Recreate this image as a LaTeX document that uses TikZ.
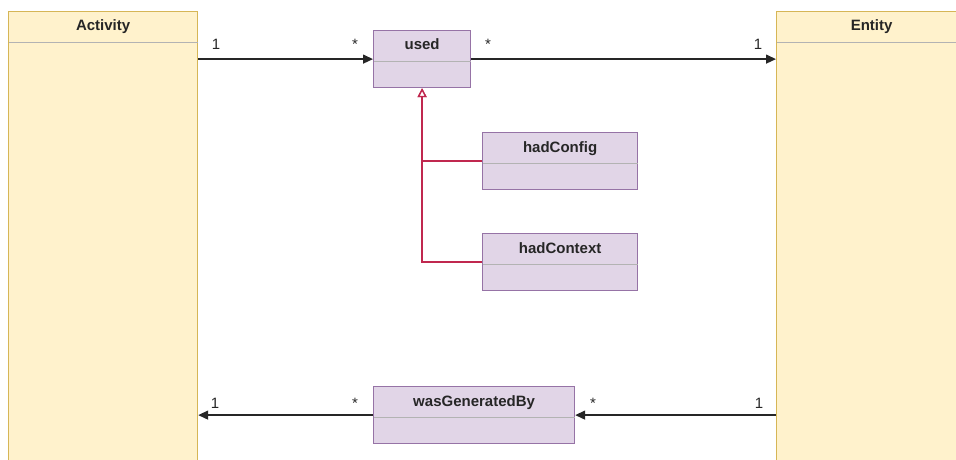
\documentclass[tikz,border=0pt]{standalone}
\usepackage{fontspec}
\setmainfont{Liberation Sans}
\usetikzlibrary{arrows.meta}
\definecolor{yellowfill}{HTML}{FFF2CC}
\definecolor{yellowline}{HTML}{D6B656}
\definecolor{purplefill}{HTML}{E1D5E7}
\definecolor{purpleline}{HTML}{9673A6}
\definecolor{divline}{HTML}{B3B3B3}
\definecolor{redline}{HTML}{C0284F}

\begin{document}
\begin{tikzpicture}[x=1pt,y=-1pt,
        classbox/.style={rectangle,anchor=north west,inner sep=0pt,line width=1.2pt},
        header/.style={font=\bfseries\fontsize{15}{18}\selectfont,anchor=base,inner sep=0pt,text=black!85},
        mult/.style={font=\fontsize{15}{18}\selectfont,anchor=base,inner sep=0pt,text=black!85},
        divider/.style={draw=divline,line width=1.5pt},
        assoc/.style={draw=black!85,line width=1.4pt,-{Triangle[length=10pt,width=9pt]}},
        gen/.style={draw=redline,line width=1.4pt,-{Triangle[open,length=9pt,width=9pt,fill=white]}}]
    \useasboundingbox (0,0) rectangle (956,460);

    % classes: name/title/x/y/width/height/fill/border
    \foreach \name/\title/\x/\y/\w/\h/\fillc/\linec in {
            activity/Activity/8/11/189/470/yellowfill/yellowline,
            entity/Entity/776/11/190/470/yellowfill/yellowline,
            used/used/373/30/97/57/purplefill/purpleline,
            hadconfig/hadConfig/482/132/155/57/purplefill/purpleline,
            hadcontext/hadContext/482/233/155/57/purplefill/purpleline,
            generated/wasGeneratedBy/373/386/201/57/purplefill/purpleline}{
        \node[classbox,fill=\fillc,draw=\linec,minimum width=\w pt,minimum height=\h pt] (\name) at (\x,\y) {};
        \node[header] (\name-title) at ([yshift=-20pt]\name.north) {\title};
        \draw[divider] ([yshift=-31.5pt,xshift=0.6pt]\name.north west) -- ([yshift=-31.5pt,xshift=-0.6pt]\name.north east);
    }

    % associations
    \draw[assoc] (used.west -| activity.east) -- (used.west);
    \draw[assoc] (used.east) -- (used.east -| entity.west);
    \draw[assoc] (generated.east -| entity.west) -- (generated.east);
    \draw[assoc] (generated.west) -- (generated.west -| activity.east);

    % specialisations of used
    \draw[gen] (hadcontext.west) -- (hadcontext.west -| used.south) -- (used.south);
    \draw[gen] (hadconfig.west) -- (hadconfig.west -| used.south) -- (used.south);

    % multiplicities
    \node[mult] (m-act-used) at (216,50) {1};
    \node[mult] (m-used-act) at (355,50) {*};
    \node[mult] (m-used-ent) at (488,50) {*};
    \node[mult] (m-ent-used) at (758,50) {1};
    \node[mult] (m-act-gen) at (215,408) {1};
    \node[mult] (m-gen-act) at (355,408) {*};
    \node[mult] (m-gen-ent) at (593,408) {*};
    \node[mult] (m-ent-gen) at (759,408) {1};
\end{tikzpicture}
\end{document}
